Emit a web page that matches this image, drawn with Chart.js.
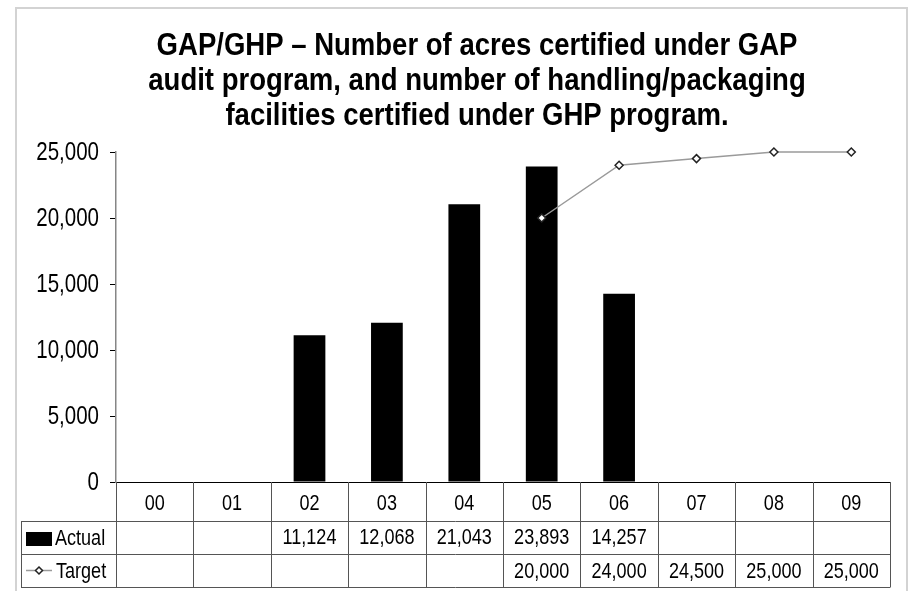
<!DOCTYPE html>
<html>
<head>
<meta charset="utf-8">
<title>GAP/GHP</title>
<script src="https://cdn.jsdelivr.net/npm/chart.js@4/dist/chart.umd.min.js"></script>
<style>
  html, body { margin: 0; padding: 0; background: #fff; }
  canvas { display: block; }
</style>
</head>
<body>
<canvas id="gapChart" width="910" height="591"></canvas>
<script>
// datos
const years = ['00', '01', '02', '03', '04', '05', '06', '07', '08', '09'];
const actual = [null, null, 11124, 12068, 21043, 23893, 14257, null, null, null];
const target = [null, null, null, null, null, 20000, 24000, 24500, 25000, 25000];
const titleLines = ['GAP/GHP \u2013 Number of acres certified under GAP',
                    'audit program, and number of handling/packaging',
                    'facilities certified under GHP program.'];
const yMax = 25000;
const yStep = 5000;

const FONT = '"Liberation Sans", Arial, sans-serif';
// la fuente original es estrecha (tipo Arial Narrow): se comprime en horizontal
const NARROW = 0.82;
const fmt = (v) => v == null ? '' : v.toLocaleString('en-US');

function narrowText(ctx, text, x, y, align, baseline, sx = NARROW) {
    ctx.save();
    ctx.translate(x, y);
    ctx.scale(sx, 1);
    ctx.textAlign = align;
    ctx.textBaseline = baseline;
    ctx.fillText(text, 0, 0);
    ctx.restore();
}

// marco, titulo, etiquetas del eje y y tabla de datos
const dataTable = {
    id: 'dataTable',
    beforeDraw(chart) {
        const ctx = chart.ctx;
        ctx.save();
        ctx.strokeStyle = '#d3d3d3';
        ctx.lineWidth = 2;
        ctx.beginPath();
        ctx.moveTo(16, 600);
        ctx.lineTo(16, 8);
        ctx.lineTo(907, 8);
        ctx.lineTo(907, 600);
        ctx.stroke();

        ctx.fillStyle = '#000';
        ctx.font = 'bold 32px ' + FONT;
        titleLines.forEach((line, i) => {
            narrowText(ctx, line, 477, 55 + i * 35, 'center', 'alphabetic', 0.86);
        });
        ctx.restore();
    },
    afterDraw(chart) {
        const ctx = chart.ctx;
        const x = chart.scales.x;
        const y = chart.scales.y;
        const area = chart.chartArea;
        const colW = (x.right - x.left) / years.length;
        const top = area.bottom;
        const rows = [top, 521, 554, 587];
        const tableLeft = 21;

        ctx.save();
        ctx.fillStyle = '#000';
        ctx.font = '25px ' + FONT;
        y.ticks.forEach((t) => {
            narrowText(ctx, fmt(t.value), area.left - 17, y.getPixelForValue(t.value) + 1, 'right', 'middle');
        });

        ctx.strokeStyle = '#555';
        ctx.lineWidth = 1;
        ctx.beginPath();
        for (let r = 1; r < rows.length; r++) {
            ctx.moveTo(tableLeft, rows[r] + 0.5);
            ctx.lineTo(x.right, rows[r] + 0.5);
        }
        for (let i = 0; i <= years.length; i++) {
            const px = Math.round(x.left + i * colW) + 0.5;
            ctx.moveTo(px, top);
            ctx.lineTo(px, rows[3] + 0.5);
        }
        ctx.moveTo(tableLeft + 0.5, rows[1]);
        ctx.lineTo(tableLeft + 0.5, rows[3] + 0.5);
        ctx.stroke();

        ctx.font = '22px ' + FONT;
        years.forEach((yr, i) => {
            const cx = x.getPixelForValue(i);
            narrowText(ctx, yr, cx, (rows[0] + rows[1]) / 2 + 2, 'center', 'middle');
            narrowText(ctx, fmt(actual[i]), cx, (rows[1] + rows[2]) / 2, 'center', 'middle');
            narrowText(ctx, fmt(target[i]), cx, (rows[2] + rows[3]) / 2 + 1, 'center', 'middle');
        });

        // leyenda dentro de la tabla
        ctx.fillRect(26, 532, 26, 14);
        narrowText(ctx, 'Actual', 55, (rows[1] + rows[2]) / 2 + 1, 'left', 'middle');
        const ly = (rows[2] + rows[3]) / 2;
        ctx.strokeStyle = '#9a9a9a';
        ctx.lineWidth = 1.5;
        ctx.beginPath();
        ctx.moveTo(26, ly);
        ctx.lineTo(52, ly);
        ctx.stroke();
        ctx.beginPath();
        ctx.moveTo(39, ly - 3.5);
        ctx.lineTo(42.5, ly);
        ctx.lineTo(39, ly + 3.5);
        ctx.lineTo(35.5, ly);
        ctx.closePath();
        ctx.fillStyle = '#fff';
        ctx.fill();
        ctx.strokeStyle = '#222';
        ctx.stroke();
        ctx.fillStyle = '#000';
        narrowText(ctx, 'Target', 56, ly + 1, 'left', 'middle');
        ctx.restore();
    }
};

new Chart(document.getElementById('gapChart'), {
    type: 'bar',
    data: {
        labels: years,
        datasets: [{
            type: 'line',
            label: 'Target',
            data: target,
            borderColor: '#9a9a9a',
            borderWidth: 1.5,
            pointStyle: 'rectRot',
            pointRadius: 4,
            pointBackgroundColor: '#fff',
            pointBorderColor: '#222',
            pointBorderWidth: 1.5,
            tension: 0,
            clip: false,
            order: 0
        }, {
            label: 'Actual',
            data: actual,
            backgroundColor: '#000',
            barPercentage: 1,
            categoryPercentage: 0.41,
            order: 1
        }]
    },
    options: {
        responsive: false,
        animation: false,
        layout: { padding: { left: 21, right: 20, top: 152, bottom: 0 } },
        plugins: {
            legend: { display: false },
            tooltip: { enabled: false },
            title: { display: false }
        },
        scales: {
            x: {
                ticks: { display: false },
                grid: { display: true, drawOnChartArea: false, drawTicks: false },
                border: { display: true, color: '#000', width: 1 },
                afterFit(scale) { scale.height = 109; }
            },
            y: {
                min: 0,
                max: yMax,
                ticks: { display: false, stepSize: yStep },
                grid: { drawOnChartArea: false, drawTicks: true, tickLength: 6, color: '#000' },
                border: { display: true, color: '#868686', width: 1.5 },
                afterFit(scale) { scale.width = 95; }
            }
        }
    },
    plugins: [dataTable]
});
</script>
</body>
</html>
